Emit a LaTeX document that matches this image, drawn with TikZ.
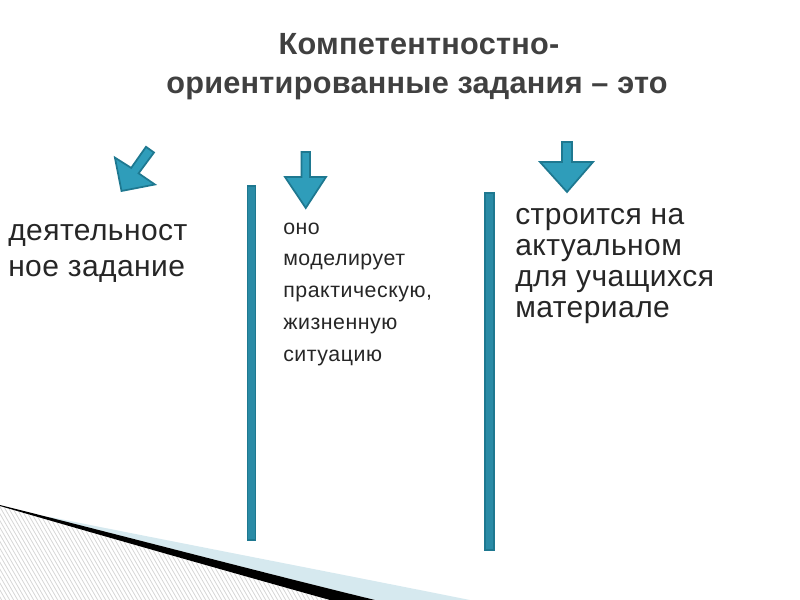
\documentclass[tikz,border=0pt]{standalone}
\usepackage{fontspec}
\setmainfont{Liberation Sans}
\definecolor{tealfill}{HTML}{2F9DBA}
\definecolor{tealedge}{HTML}{1E7890}
\definecolor{barfill}{HTML}{2A8BA6}
\definecolor{bluelight}{HTML}{D6E9EF}
\definecolor{titlegray}{HTML}{404040}
\definecolor{bodyblack}{HTML}{262626}
\definecolor{hatch}{HTML}{D6D6D6}
\begin{document}
\begin{tikzpicture}[x=0.75pt,y=-0.75pt,
  arrowshape/.style={fill=tealfill,draw=tealedge,line width=1.3pt,line join=miter},
  barshape/.style={fill=barfill,draw=tealedge,line width=0.8pt},
  titletext/.style={inner sep=0pt,text=titlegray,font=\fontsize{23}{27}\selectfont\bfseries\addfontfeature{LetterSpace=0.8}},
  bigtext/.style={inner sep=0pt,text=bodyblack,font=\fontsize{22.5}{27}\selectfont\addfontfeature{LetterSpace=1.5}},
  smalltext/.style={inner sep=0pt,text=bodyblack,font=\fontsize{16}{20}\selectfont\addfontfeature{LetterSpace=2.5}}]
\useasboundingbox (0,0) rectangle (800,600);
% bottom-left swoosh: hatched area
\begin{scope}
  \clip (0,506) .. controls (110,538) and (230,572) .. (330,600) -- (0,600) -- cycle;
  \foreach \i in {-120,-116,...,360} {
    \draw[hatch,line width=0.6pt] (\i,500) -- ++(60,104);
  }
\end{scope}
\fill[bluelight] (50,517) .. controls (180,543) and (330,572) .. (470,600) -- (375,600)
  .. controls (260,572) and (120,535) .. (50,518) -- cycle;
\fill[black] (0,505) .. controls (120,535) and (260,572) .. (375,600) -- (330,600)
  .. controls (230,572) and (110,538) .. (0,506) -- cycle;
% title
\node[titletext,anchor=base] (t1) at (419,54) {Компетентностно-};
\node[titletext,anchor=base] (t2) at (417,93) {ориентированные задания – это};
% arrows
\draw[arrowshape] (154.0,152.5) -- (146.0,146.8) -- (131.2,167.9) -- (114.9,157.6)
  -- (121.5,191) -- (154.9,184.5) -- (138.6,173.3) -- cycle;
\draw[arrowshape] (301.5,152) -- (310,152) -- (310,177) -- (326,177) -- (305.75,208)
  -- (285,177) -- (301.5,177) -- cycle;
\draw[arrowshape] (562,142) -- (572,142) -- (572,162) -- (593,162) -- (567,192)
  -- (540,162) -- (562,162) -- cycle;
% vertical bars
\draw[barshape] (247.5,186) rectangle (255.5,540);
\draw[barshape] (485,193) rectangle (494,550);
% left text
\node[bigtext,anchor=base west] (l1) at (8,240) {деятельност};
\node[bigtext,anchor=base west] (l2) at (8,276) {ное задание};
% middle text
\node[smalltext,anchor=base west] (m1) at (283,234) {оно};
\node[smalltext,anchor=base west] (m2) at (283,265) {моделирует};
\node[smalltext,anchor=base west] (m3) at (283,297) {практическую,};
\node[smalltext,anchor=base west] (m4) at (283,329) {жизненную};
\node[smalltext,anchor=base west] (m5) at (283,361) {ситуацию};
% right text
\node[bigtext,anchor=base west] (r1) at (515,224) {строится на};
\node[bigtext,anchor=base west] (r2) at (515,255) {актуальном};
\node[bigtext,anchor=base west] (r3) at (515,286) {для учащихся};
\node[bigtext,anchor=base west] (r4) at (515,317) {материале};
\end{tikzpicture}
\end{document}
